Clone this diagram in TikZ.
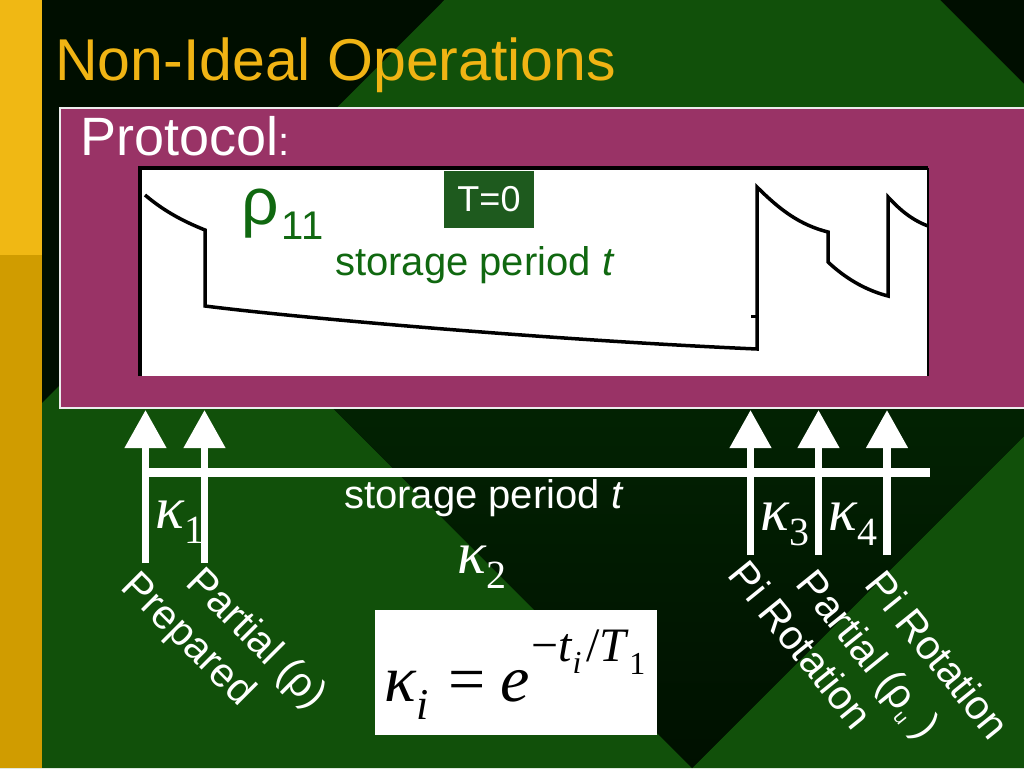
\documentclass[tikz,border=0pt]{standalone}
\usepackage{fontspec}
\setmainfont{Liberation Sans}
\newfontfamily\timesf{Liberation Serif}
\usetikzlibrary{arrows.meta}

\definecolor{slidedark}{RGB}{0,14,0}
\definecolor{slidegreen}{RGB}{17,80,10}
\definecolor{stripyellow}{RGB}{240,184,20}
\definecolor{stripgold}{RGB}{208,156,0}
\definecolor{titleyellow}{RGB}{240,180,20}
\definecolor{protomag}{RGB}{153,51,102}
\definecolor{plotgreen}{RGB}{16,104,16}
\definecolor{tgreen}{RGB}{30,90,30}

\newcommand{\fsz}[1]{\fontsize{#1}{#1}\selectfont}
\newcommand{\kap}[1]{{\timesf\itshape\fsz{60}κ}\raisebox{-15pt}{\timesf\fsz{40}#1}}

\begin{document}
\begin{tikzpicture}[x=1pt,y=-1pt,
    txt/.style={inner sep=0,anchor=base west},
    pulse/.style={white,line width=7.5pt,-{Triangle[length=38pt,width=40pt]}},
    oplabel/.style={inner sep=0,text=white,font=\fsz{41},rotate=-45,anchor=north west}]
    \useasboundingbox (0,0) rectangle (1024,768);
    \clip (0,0) rectangle (1024,768);

    %background triangles
    \fill[slidedark] (0,0) rectangle (1024,768);
    \fill[slidegreen] (692,-248) -- (1200,260) -- (185,260) -- cycle;
    \fill[slidegreen] (185,260) -- (692,768) -- (-323,768) -- cycle;
    \fill[slidegreen] (1200,260) -- (1708,768) -- (692,768) -- cycle;
    \shade[top color={rgb,255:red,3;green,42;blue,3},bottom color={rgb,255:red,0;green,16;blue,0}]
        (185,260) -- (1200,260) -- (692,768) -- cycle;
    \fill[stripyellow] (0,0) rectangle (42,255);
    \fill[stripgold] (0,255) rectangle (42,768);

    \node[txt,text=titleyellow,font=\fsz{59}] (title) at (55,80) {Non-Ideal Operations};

    %protocol panel
    \draw[fill=protomag,draw=white!85!gray,line width=1.2pt] (60,108) rectangle (1030,408);
    \node[txt,text=white,font=\fsz{54}] (proto) at (80,155) {Protocol{\fsz{40}:}};
    \fill[white] (140,168) rectangle (928,376);
    \draw[line width=4pt] (140,376) -- (140,168) -- (928,168);
    \draw[line width=2pt] (928,168) -- (928,376);

    % rho_11 trace
    \draw[line width=3.5pt,line join=miter] (145,195) .. controls (165,212) and (185,222) .. (205,230)
        -- (205,306) .. controls (300,318) and (550,340) .. (757,349)
        -- (757,187) .. controls (780,210) and (800,225) .. (828,232)
        -- (828,262) .. controls (845,278) and (865,290) .. (888,296)
        -- (888,197) .. controls (900,210) and (912,220) .. (928,226);
    \draw[line width=3pt] (751,316) -- (757,316);

    \node[txt,text=plotgreen,font=\fsz{66}] (rho) at (241,224) {ρ\hspace{3pt}\raisebox{-15pt}{\fsz{40}11}};
    \node[fill=tgreen,text=white,font=\fsz{36},minimum width=90pt,minimum height=57pt,inner sep=0] (tzero) at (489,199.5) {T=0};
    \node[txt,text=plotgreen,font=\fsz{40}] (gstore) at (335,275) {storage period \textit{t}};

    % pulses
    \foreach \n/\x/\b in {1/145.5/563, 2/204.5/563, 3/750.5/555, 4/818.5/555, 5/887/555} {
        \coordinate (base\n) at (\x,\b);
        \coordinate (tip\n) at (\x,410);
        \draw[pulse] (base\n) -- (tip\n);
    }
    \coordinate (tleft) at (145.5,472);
    \coordinate (tright) at (930,472);
    \draw[white,line width=9pt] (tleft) -- (tright);
    \node[txt,text=white,font=\fsz{40}] (wstore) at (344,508) {storage period \textit{t}};

    \node[txt,text=white] (k1) at (155,528) {\kap{1}};
    \node[txt,text=white] (k2) at (457,573) {\kap{2}};
    \node[txt,text=white] (k3) at (760,530) {\kap{3}};
    \node[txt,text=white] (k4) at (828,530) {\kap{4}};

    \node[oplabel] (lprep) at (141,567) {Prepared};
    \node[oplabel] (lpart) at (206,563) {Partial (ρ)};
    \node[oplabel,rotate=-6] (lpi1) at (750,557) {Pi Rotation};
    \node[oplabel,rotate=-6] (lpart2) at (818,566) {Partial (ρ\raisebox{-8pt}{\fsz{20}u} )};
    \node[oplabel,rotate=-6] (lpi2) at (887,567) {Pi Rotation};

    %decay formula
    \node[fill=white,minimum width=282pt,minimum height=125pt,inner sep=0] (kbox) at (516,672.5) {};
    \node[txt] (kform) at (384,701) {\timesf\fsz{66}\textit{κ}\raisebox{-18pt}{\fsz{44}\textit{i}}\hspace{20pt}=\hspace{14pt}\textit{e}\hspace{2pt}\raisebox{40pt}{\fsz{48}−\textit{t}\raisebox{-12pt}{\fsz{32}\textit{i}}\hspace{5pt}/\textit{T}\raisebox{-13pt}{\fsz{32}1}}};
\end{tikzpicture}
\end{document}
